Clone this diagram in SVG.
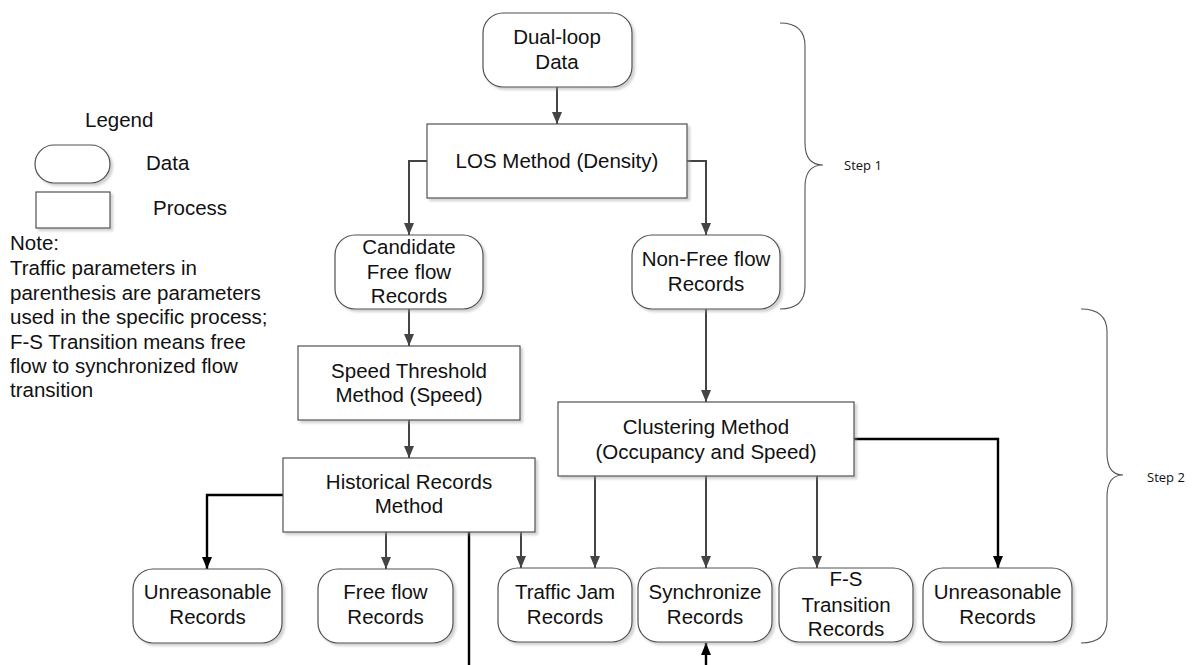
<svg xmlns="http://www.w3.org/2000/svg" width="1196" height="665" viewBox="0 0 1196 665">
  <style>
    .box { fill: #ffffff; stroke: #505050; stroke-width: 1.2; filter: url(#shadow); }
    .lg { fill: #ffffff; stroke: #505050; stroke-width: 1.2; filter: url(#shadow); }
    .t { font-family: "Liberation Sans", Arial, sans-serif; font-size: 20.5px; fill: #111111; text-anchor: middle; }
    .ts { font-family: "Liberation Sans", Arial, sans-serif; font-size: 20.5px; fill: #111111; }
    .step { font-family: "Open Sans", "Noto Sans", sans-serif; font-size: 13px; fill: #111111; }
    .c { fill: none; stroke: #444444; stroke-width: 2; marker-end: url(#ag); }
    .cb { fill: none; stroke: #000000; stroke-width: 2.4; marker-end: url(#ab); }
    .cbn { fill: none; stroke: #000000; stroke-width: 2.4; }
    .brace { fill: none; stroke: #555555; stroke-width: 1.1; }
  </style>
  <defs>
    <filter id="shadow" x="-10%" y="-10%" width="130%" height="130%">
      <feDropShadow dx="2.5" dy="2.5" stdDeviation="1.2" flood-color="#9a9a9a" flood-opacity="0.45"/>
    </filter>
    <marker id="ag" viewBox="0 0 12 10" markerWidth="12" markerHeight="10" refX="12" refY="5" orient="auto" markerUnits="userSpaceOnUse">
      <path d="M0,0 L12,5 L0,10 z" fill="#444444"/>
    </marker>
    <marker id="ab" viewBox="0 0 12 10" markerWidth="12" markerHeight="10" refX="12" refY="5" orient="auto" markerUnits="userSpaceOnUse">
      <path d="M0,0 L12,5 L0,10 z" fill="#000000"/>
    </marker>
  </defs>

  <rect width="1196" height="665" fill="#ffffff"/>

  <!-- Legend and note -->
  <g id="legend">
    <text class="ts" x="85" y="127">Legend</text>
    <rect class="lg" x="35" y="145" width="75" height="38" rx="19"/>
    <text class="ts" x="146" y="170">Data</text>
    <rect class="lg" x="36" y="192" width="74" height="36"/>
    <text class="ts" x="153" y="215">Process</text>
    <text class="ts" x="10" y="250">Note:</text>
    <text class="ts" x="10" y="275">Traffic parameters in</text>
    <text class="ts" x="10" y="300">parenthesis are parameters</text>
    <text class="ts" x="10" y="324">used in the specific process;</text>
    <text class="ts" x="10" y="349">F-S Transition means free</text>
    <text class="ts" x="10" y="373">flow to synchronized flow</text>
    <text class="ts" x="10" y="397">transition</text>
  </g>

  <!-- Connectors -->
  <g id="connectors">
    <path class="c" d="M557,87 V124"/>
    <path class="c" d="M427,161 H409 V235"/>
    <path class="c" d="M687,161 H706 V235"/>
    <path class="c" d="M409,309 V346"/>
    <path class="c" d="M409,420 V458"/>
    <path class="cb" d="M283,495 H207 V569"/>
    <path class="c" d="M386,532 V569"/>
    <path class="c" d="M521,532 V568"/>
    <path class="cbn" d="M469,532 V665"/>
    <path class="c" d="M706,309 V402"/>
    <path class="c" d="M595,476 V568"/>
    <path class="c" d="M706,476 V568"/>
    <path class="c" d="M817,476 V568"/>
    <path class="cb" d="M854,439 H998 V568"/>
    <path class="cb" d="M706,665 V643"/>
  </g>

  <!-- Nodes -->
  <g id="dual-loop-data">
    <rect class="box" x="483" y="13" width="149" height="74" rx="20"/>
    <text class="t" x="557" y="44">Dual-loop</text>
    <text class="t" x="557" y="69">Data</text>
  </g>
  <g id="los-method">
    <rect class="box" x="427" y="124" width="260" height="74"/>
    <text class="t" x="557" y="168">LOS Method (Density)</text>
  </g>
  <g id="candidate-free-flow">
    <rect class="box" x="335" y="235" width="148" height="74" rx="20"/>
    <text class="t" x="409" y="254">Candidate</text>
    <text class="t" x="409" y="279">Free flow</text>
    <text class="t" x="409" y="303">Records</text>
  </g>
  <g id="non-free-flow">
    <rect class="box" x="632" y="235" width="148" height="74" rx="20"/>
    <text class="t" x="706" y="266">Non-Free flow</text>
    <text class="t" x="706" y="291">Records</text>
  </g>
  <g id="speed-threshold">
    <rect class="box" x="298" y="346" width="222" height="74"/>
    <text class="t" x="409" y="378">Speed Threshold</text>
    <text class="t" x="409" y="402">Method (Speed)</text>
  </g>
  <g id="historical-records">
    <rect class="box" x="283" y="458" width="252" height="74"/>
    <text class="t" x="409" y="489">Historical Records</text>
    <text class="t" x="409" y="513">Method</text>
  </g>
  <g id="clustering-method">
    <rect class="box" x="558" y="402" width="296" height="74"/>
    <text class="t" x="706" y="434">Clustering Method</text>
    <text class="t" x="706" y="459">(Occupancy and Speed)</text>
  </g>
  <g id="unreasonable-left">
    <rect class="box" x="133" y="569" width="149" height="74" rx="20"/>
    <text class="t" x="207.5" y="599">Unreasonable</text>
    <text class="t" x="207.5" y="624">Records</text>
  </g>
  <g id="free-flow">
    <rect class="box" x="318" y="569" width="135" height="74" rx="20"/>
    <text class="t" x="385.5" y="599">Free flow</text>
    <text class="t" x="385.5" y="624">Records</text>
  </g>
  <g id="traffic-jam">
    <rect class="box" x="498" y="568" width="134" height="74" rx="20"/>
    <text class="t" x="565" y="599">Traffic Jam</text>
    <text class="t" x="565" y="624">Records</text>
  </g>
  <g id="synchronize">
    <rect class="box" x="638" y="568" width="134" height="74" rx="20"/>
    <text class="t" x="705" y="599">Synchronize</text>
    <text class="t" x="705" y="624">Records</text>
  </g>
  <g id="fs-transition">
    <rect class="box" x="779" y="568" width="134" height="74" rx="20"/>
    <text class="t" x="846" y="586">F-S</text>
    <text class="t" x="846" y="612">Transition</text>
    <text class="t" x="846" y="636">Records</text>
  </g>
  <g id="unreasonable-right">
    <rect class="box" x="923" y="568" width="149" height="74" rx="20"/>
    <text class="t" x="997.5" y="599">Unreasonable</text>
    <text class="t" x="997.5" y="624">Records</text>
  </g>

  <!-- Step braces -->
  <g id="step-1">
    <path class="brace" d="M780,23 Q805,23 805,46 V143 Q805,165 823,165 Q805,165 805,187 V286 Q805,309 780,309"/>
    <text class="step" x="844" y="170">Step 1</text>
  </g>
  <g id="step-2">
    <path class="brace" d="M1081,309 Q1107,309 1107,332 V453 Q1107,475 1123,475 Q1107,475 1107,497 V620 Q1107,643 1081,643"/>
    <text class="step" x="1147" y="482">Step 2</text>
  </g>
</svg>
